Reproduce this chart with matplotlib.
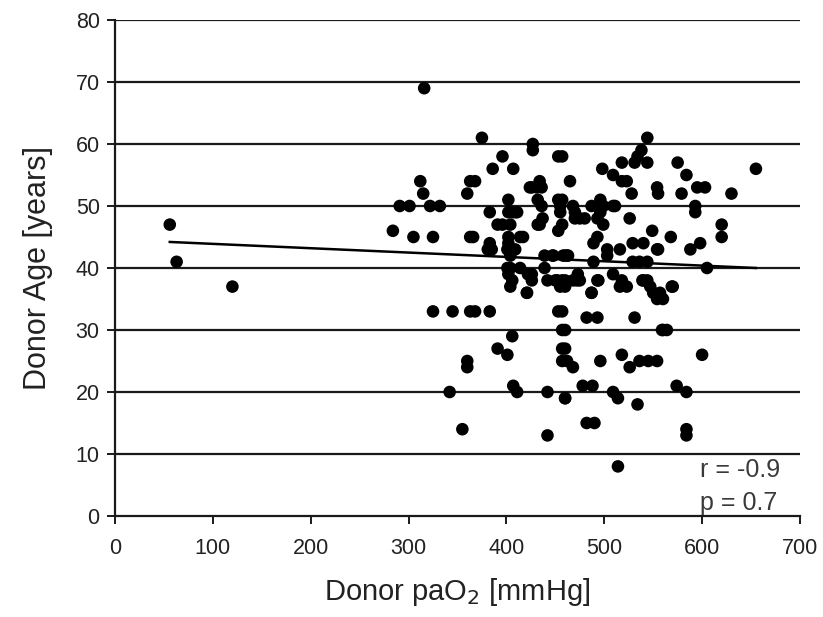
import numpy as np
import matplotlib
matplotlib.use("Agg")
import matplotlib.pyplot as plt

plt.rcParams['font.family'] = ['Liberation Sans', 'DejaVu Sans']

# donor paO2 (mmHg) and donor age (years), one entry per donor
pao2 = [56, 63, 120, 316,
        284, 291, 301, 305, 312, 315, 322, 325, 332, 325, 345, 363, 360, 360,
        342, 355, 360, 363, 363, 366, 368, 368, 375, 383,
        386, 396, 407, 427, 427, 453, 424, 434, 436, 432, 402, 383, 402, 409,
        436, 437, 391, 396, 432, 453, 455, 453, 402, 417, 414, 404, 426, 431,
        434, 406, 411, 457, 465, 455,
        383, 385, 402, 409, 401, 404, 439, 448, 458, 401, 402, 414, 422, 426,
        439, 450, 457, 406, 404, 421, 381, 447, 442, 452, 455, 404, 426,
        391, 401, 406, 407, 411, 442, 442, 453, 457, 457, 457, 460, 421,
        544, 538, 534, 518, 531, 544, 498, 509, 518, 523, 528, 554, 555, 457,
        468, 470, 480, 487, 496, 499, 493, 499, 509, 526, 457, 549, 470, 475,
        511, 496,
        493, 489, 503, 516, 529, 540, 554, 460, 463, 503, 489, 529, 544, 536,
        473, 472, 493, 509, 518, 516, 523, 540, 547, 550, 460, 460, 487, 468,
        475, 494, 539, 544, 557, 560, 462, 555, 487, 554,
        457, 482, 493, 531, 460, 559, 460, 462, 468, 496, 518, 526, 536, 545,
        554, 478, 488, 460, 509, 514, 534, 482, 490, 514,
        575, 584, 579, 595, 603, 593, 593, 568, 588, 598, 605, 569, 570, 564,
        600, 574, 584, 584, 584, 630, 620, 620, 655, 560]
age = [47, 41, 37, 69,
       46, 50, 50, 45, 54, 52, 50, 45, 50, 33, 33, 33, 25, 24,
       20, 14, 52, 54, 45, 45, 54, 33, 61, 33,
       56, 58, 56, 60, 59, 58, 53, 54, 53, 51, 51, 49, 49, 49,
       50, 48, 47, 47, 47, 51, 49, 46, 45, 45, 45, 47, 53, 53,
       47, 49, 49, 58, 54, 50,
       44, 43, 44, 43, 43, 42, 42, 42, 42, 40, 39, 40, 39, 38,
       40, 38, 38, 38, 37, 36, 43, 42, 38, 38, 37, 40, 39,
       27, 26, 29, 21, 20, 20, 13, 33, 30, 27, 25, 19, 36,
       61, 59, 58, 57, 57, 57, 56, 55, 54, 54, 52, 53, 52, 51,
       50, 48, 48, 50, 51, 50, 48, 47, 50, 48, 47, 46, 49, 48,
       50, 49,
       45, 44, 43, 43, 44, 44, 43, 42, 42, 42, 41, 41, 41, 41,
       39, 38, 38, 39, 38, 37, 37, 38, 37, 36, 38, 37, 36, 38,
       38, 38, 38, 38, 36, 35, 42, 43, 36, 35,
       33, 32, 32, 32, 30, 30, 27, 25, 24, 25, 26, 24, 25, 25,
       25, 21, 21, 19, 20, 19, 18, 15, 15, 8,
       57, 55, 52, 53, 53, 50, 49, 45, 43, 44, 40, 37, 37, 30,
       26, 21, 20, 14, 13, 52, 47, 45, 56, 30]

# fitted regression line end points
fit_x = [56, 655]
fit_y = [44.2, 40.0]

stats_text = ["r = -0.9", "p = 0.7"]

fig = plt.figure(figsize=(8.23, 6.17), dpi=100)
ax = fig.add_axes([0.1397, 0.1637, 0.8323, 0.8039])

ax.set_xlim(0, 700)
ax.set_ylim(0, 80)
ax.set_xticks(range(0, 701, 100))
ax.set_yticks(range(0, 81, 10))

for gy in range(10, 81, 10):
    ax.axhline(gy, color='#1a1a1a', lw=1.6, zorder=1)

ax.scatter(pao2, age, s=82, color='black', edgecolors='none', zorder=3)
ax.plot(fit_x, fit_y, color='black', lw=1.8, zorder=2)

ax.text(598, 6.3, stats_text[0], fontsize=18, color='#3a3a3a')
ax.text(598, 1.0, stats_text[1], fontsize=18, color='#3a3a3a')

for side in ['top', 'right']:
    ax.spines[side].set_visible(False)
for side in ['left', 'bottom']:
    ax.spines[side].set_color('#1a1a1a')
    ax.spines[side].set_linewidth(1.6)

ax.tick_params(axis='both', direction='out', length=6, width=1.4,
               colors='#1a1a1a', labelsize=15.5, labelcolor='#222222')
ax.tick_params(axis='x', pad=10)
ax.tick_params(axis='y', pad=5)

ax.set_xlabel('Donor paO$_2$ [mmHg]', fontsize=21, labelpad=12, color='#222222')
ax.set_ylabel('Donor Age [years]', fontsize=22, labelpad=16, color='#222222')

fig.savefig('out.png', dpi=100, facecolor='white')
